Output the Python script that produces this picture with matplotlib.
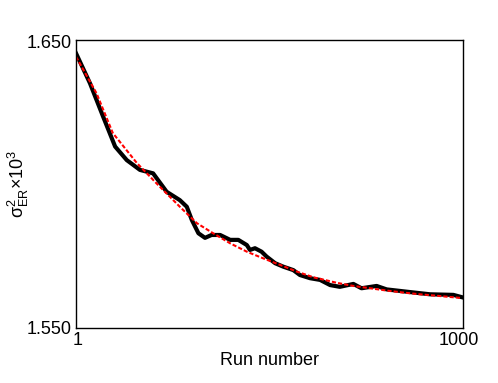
import matplotlib
matplotlib.use("Agg")
import matplotlib.pyplot as plt
import matplotlib.transforms as mtransforms

plt.rcParams['font.family'] = ['Liberation Sans', 'DejaVu Sans']
plt.rcParams['mathtext.fontset'] = 'custom'
plt.rcParams['mathtext.rm'] = 'Liberation Sans'
plt.rcParams['mathtext.it'] = 'Liberation Sans'
plt.rcParams['mathtext.bf'] = 'Liberation Sans:bold'

# measured variance (black, thick)
run_meas = [1, 37, 71, 102, 132, 166, 200, 235, 269, 287, 300, 317, 334, 351,
            373, 399, 420, 442, 450, 463, 480, 493, 515, 536, 562, 579, 605,
            631, 657, 682, 717, 738, 777, 803, 855, 915, 975, 997]
var_meas = [1.6454, 1.6350, 1.6234, 1.6130, 1.6083, 1.6049, 1.6037, 1.5973,
            1.5944, 1.5921, 1.5875, 1.5829, 1.5813, 1.5823, 1.5823, 1.5806,
            1.5806, 1.5788, 1.5771, 1.5777, 1.5765, 1.5748, 1.5725, 1.5713,
            1.5701, 1.5684, 1.5673, 1.5667, 1.5649, 1.5643, 1.5653, 1.5638,
            1.5646, 1.5634, 1.5626, 1.5617, 1.5615, 1.5607]

# fitted curve (red, dashed)
run_fit = [1, 54, 96, 158, 209, 269, 313, 355, 399, 442, 484, 528, 571, 614,
           652, 674, 717, 760, 803, 846, 889, 932, 997]
var_fit = [1.6442, 1.6315, 1.6177, 1.6073, 1.6002, 1.5921, 1.5864, 1.5829,
           1.5794, 1.5765, 1.5742, 1.5719, 1.5696, 1.5676, 1.5664, 1.5657,
           1.5646, 1.5638, 1.5630, 1.5623, 1.5617, 1.5612, 1.5604]

fig = plt.figure(figsize=(4.98, 3.83), dpi=100)
ax = fig.add_axes([76/498, 1 - 328/383, 387/498, 288/383])

ax.plot(run_meas, var_meas, color='black', lw=3, solid_joinstyle='round')
ax.plot(run_fit, var_fit, color='red', lw=1.5, dashes=(2, 1))

ax.set_xlim(1, 1000)
ax.set_ylim(1.550, 1.650)
ax.set_xticks([1, 1000])
ax.set_xticklabels(['1', '1000'])
ax.set_yticks([1.550, 1.650])
ax.set_yticklabels(['1.550', '1.650'])
ax.tick_params(length=0, labelsize=13, pad=3)
for s in ax.spines.values():
    s.set_linewidth(1.0)

# nudge x tick labels like the original
xl = ax.get_xticklabels()
xl[0].set_transform(xl[0].get_transform() + mtransforms.ScaledTranslation(2/100, 0, fig.dpi_scale_trans))
xl[1].set_transform(xl[1].get_transform() + mtransforms.ScaledTranslation(-4/100, 0, fig.dpi_scale_trans))
yl = ax.get_yticklabels()
yl[1].set_transform(yl[1].get_transform() + mtransforms.ScaledTranslation(0, -2/100, fig.dpi_scale_trans))

ax.set_xlabel('Run number', fontsize=13, labelpad=2)
ax.set_ylabel(r'$\mathrm{\sigma}^{2}_{\mathrm{ER}}$$\times$10$^{3}$', fontsize=13, labelpad=-3)

fig.savefig('out.png', dpi=100)
